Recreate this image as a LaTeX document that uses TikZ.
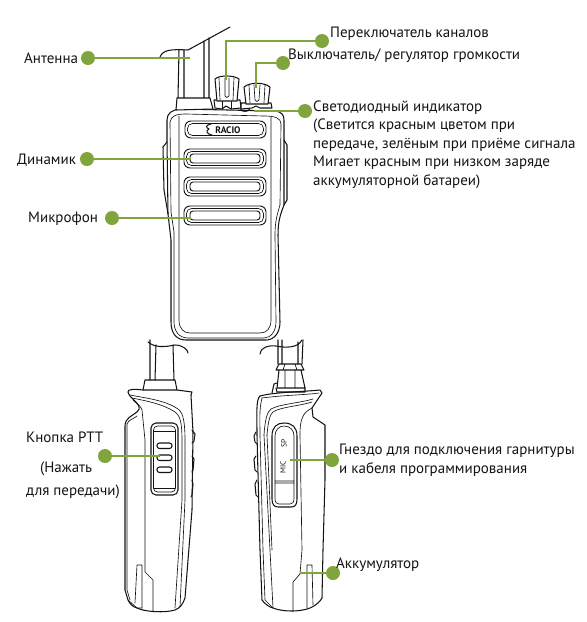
\documentclass[tikz,border=0pt]{standalone}
\usepackage{fontspec}
\setmainfont{PT Sans}
\definecolor{leaf}{HTML}{7FA53C}
\definecolor{ink}{HTML}{141414}
\tikzset{
  lbl/.style={inner sep=0pt,anchor=base west,text=ink,font=\fontsize{15}{18.5}\selectfont,align=left},
  dot/.style={circle,fill=leaf,draw=none,minimum size=14pt,inner sep=0pt},
  lead/.style={draw=leaf,line width=1.6pt},
  ol/.style={draw=ink,line width=1.05pt,line join=round,line cap=round},
  thin/.style={draw=ink,line width=0.65pt,line join=round,line cap=round},
  grille/.style={draw=ink,line width=0.95pt,rounded corners=6pt},
}
\begin{document}
\begin{tikzpicture}[x=1pt,y=-1pt]
\useasboundingbox (0,0) rectangle (587,622);
\fill[white] (0,0) rectangle (587,622);
% ---------- front radio
% body
\draw[ol] (167,140) -- (167,120) .. controls (167,113) and (172,110) .. (180,109) -- (275,111) .. controls (282,112) and (284,115) .. (284,120)
  -- (284,205) .. controls (281,213) and (278,220) .. (278,235) -- (280,322)
  .. controls (280,333) and (274,340) .. (266,340) -- (186,340) .. controls (177,340) and (171,334) .. (171,322) -- (171,240) -- (168,214) -- cycle;
\draw[thin] (170,122) .. controls (171,116) and (176,114) .. (186,114) -- (264,116) .. controls (275,116) and (281,118) .. (281,124) -- (280,205) .. controls (277,215) and (275,222) .. (275,235) -- (276,322)
 .. controls (276,331) and (271,338) .. (264,338) -- (188,338) .. controls (179,338) and (174,331) .. (174,322) -- (174,232) -- (171,212) -- cycle;
\draw[thin] (179,116) -- (179,320) .. controls (179,329) and (184,333) .. (190,333) -- (260,333) .. controls (267,333) and (271,328) .. (271,320) -- (271,117);
\draw[ol] (167,142) -- (163,147) -- (164,190) -- (168,214);
\draw[ol] (284,140) -- (287,145) -- (287,200) -- (284,205);
\draw[thin] (240,110) .. controls (243,108) and (248,108) .. (250,110) .. controls (247,112) and (243,112) .. (240,110);
% antenna
\draw[ol] (160,57) .. controls (163,50) and (170,49) .. (188,50) -- (230,27);
\draw[ol] (179,50) -- (178,98) (184,50) -- (184,98) (204,41) -- (204,98) (209,38) -- (209,98);
\draw[ol,fill=white] (177,98) -- (210,98) -- (213,109) -- (176,110) -- cycle;
% knobs
\draw[ol,fill=white] (214,100) -- (240,100) -- (241,108) -- (231,109) -- (226,106) -- (222,109) -- (215,108) -- cycle;
\draw[thin] (222,100) -- (222,109) (231,100) -- (231,109);
\draw[ol,fill=white] (215,79) .. controls (219,75) and (234,75) .. (239,79) -- (237,101) -- (217,101) -- cycle;
\draw[thin] (219,78) -- (220,100) (234,78) -- (233,100) (225,78) -- (225,96) .. controls (226,98) and (228,98) .. (229,96) -- (229,78);
\draw[ol,fill=white] (241,103) -- (271,103) -- (272,108) -- (260,108) -- (256,106) -- (252,108) -- (241,109) -- cycle;
\draw[ol,fill=white] (244,87) .. controls (250,82) and (264,82) .. (270,87) -- (268,104) -- (246,104) -- cycle;
\draw[thin] (249,85) -- (250,103) (265,85) -- (264,103) (254,85) -- (255,100) .. controls (256,102) and (258,102) .. (259,100) -- (260,85);
% logo plate + grilles
\draw[grille] (185,121) rectangle (266,138);
\draw[thin,rounded corners=5pt] (187.5,123.5) rectangle (263.5,135.5);
\node[inner sep=0pt,text=ink] (logo) at (228,130) {\fontsize{9.5}{9.5}\selectfont\bfseries RACIO};
\draw[ol] (211,124) .. controls (205,125) and (206,128) .. (209,129) .. controls (205,131) and (207,134) .. (212,135);
\foreach \t/\b in {149/168,177/196,206/225}{
  \draw[grille] (184,\t) rectangle (266,\b);
  \draw[thin,rounded corners=5pt] (186.5,\t+2.5) rectangle (263.5,\b-2.5);
  \draw[grille,rounded corners=3pt] (190,\t+5) rectangle (260,\b-5);
}
% ---------- left side radio
\draw[ol] (148,342) .. controls (155,348) and (165,347) .. (175,345) .. controls (183,345) and (188,350) .. (188,353);
\draw[ol] (150,340) -- (150,380) (156,345) -- (155,380) (173,345) -- (174,380);
\draw[ol] (145,380) -- (175,380) -- (177,390) (143,390) -- (145,380);
\draw[ol] (128,392) .. controls (127,389) and (135,389) .. (143,390) -- (177,390) -- (192,392) -- (191,395);
\draw[ol] (128,392) .. controls (129,396) and (132,398) .. (134,400) .. controls (138,404) and (142,408) .. (137,412) .. controls (132,416) and (125,418) .. (125,426)
 -- (125,590) -- (128,600) .. controls (130,604) and (133,607) .. (137,608) .. controls (145,612) and (165,613) .. (175,610) .. controls (180,608) and (183,604) .. (185,598) -- (192,510) -- (193,432) -- (191,395);
\draw[thin] (127,424) .. controls (128,420) and (135,418) .. (137,416);
\draw[thin] (127,424) -- (127,590) -- (130,600);
\draw[thin] (130,395) .. controls (145,398) and (165,400) .. (178,409) .. controls (184,413) and (185,425) .. (185,442) -- (185,500) -- (180,607);
\draw[thin] (132,398) .. controls (147,401) and (163,404) .. (175,412) .. controls (181,416) and (182,425) .. (182,442) -- (182,500) -- (175,608);
\draw[thin] (133,400) .. controls (137,404) and (141,406) .. (142,410) -- (145,440) -- (145,572) -- (153,580) -- (153,612);
\draw[thin] (137,565) -- (142,565) -- (142,608) (137,565) -- (135,603);
\draw[thin] (128,600) -- (137,608) -- (142,608);
\draw[ol,rounded corners=5pt] (151,423) rectangle (178,495);
\draw[thin,rounded corners=4pt] (153.5,426) rectangle (175.5,492);
\draw[thin] (154,431) -- (175,431) (154,488) -- (175,488);
\foreach \t in {443,455,467}{\draw[ol,rounded corners=2.5pt] (157,\t) rectangle (172,\t+5.5);}
\draw[ol] (192,430) -- (195,434) -- (194,441) -- (192,443) (192,456) -- (194,459) -- (193,470) -- (192,472) (192,480) -- (193,484) -- (192,495) -- (191,497);
% ---------- right side radio
\draw[ol] (260,354) .. controls (260,348) and (268,345) .. (276,346) .. controls (286,348) and (298,348) .. (302,340);
\draw[ol] (278,340) -- (278,364) (282,340) -- (282,364) (298,342) -- (298,364) (303,340) -- (302,364);
\draw[ol] (279,364) -- (301,364) -- (304,370) -- (276,370) -- cycle;
\draw[ol] (279,370) -- (277,388) -- (305,388) -- (301,370);
\draw[thin] (285,370) -- (285,388) (295,370) -- (295,388) (285,364) -- (283,370) (295,364) -- (297,370);
\draw[ol] (272,393) -- (274,384) -- (277,383) (276,388) -- (277,392) -- (305,392) -- (305,388);
\draw[ol] (260,396) .. controls (275,392) and (300,392) .. (320,390) -- (322,393) -- (312,408);
\draw[ol] (260,396) .. controls (256,400) and (257,410) .. (257,435) -- (260,550) -- (262,600) .. controls (265,604) and (269,607) .. (273,608) .. controls (283,612) and (300,612) .. (310,608) .. controls (315,606) and (320,602) .. (322,598) -- (323,550) -- (325,480) -- (325,425) -- (313,417) -- (312,408);
\draw[thin] (262,398) .. controls (284,395) and (305,395) .. (319,393);
\draw[thin] (262,398) .. controls (259,410) and (260,420) .. (260,435) -- (263,550) -- (265,600) -- (273,608);
\draw[thin] (267,435) .. controls (268,422) and (270,414) .. (273,412) .. controls (280,407) and (300,406) .. (312,402);
\draw[thin] (264,435) .. controls (265,420) and (267,412) .. (271,409) .. controls (280,404) and (300,403) .. (313,399);
\draw[thin] (264,435) -- (270,550) -- (273,608);
\draw[thin] (267,435) -- (272,550);
\draw[thin] (300,435) .. controls (300,420) and (302,413) .. (312,408) (300,435) -- (302,550) -- (300,574) -- (293,582) -- (293,612);
\draw[thin] (307,565) -- (312,565) -- (313,605) (307,565) -- (307,608);
\draw[ol,fill=white] (272,436) .. controls (272,427) and (277,423) .. (284,423) .. controls (292,423) and (297,427) .. (297,436) -- (297,499) .. controls (297,505) and (295,507) .. (291,507) -- (278,507) .. controls (274,507) and (272,504) .. (272,499) -- cycle;
\draw[thin] (275,436) .. controls (275,430) and (279,426) .. (284,426) .. controls (290,426) and (294,430) .. (294,436) -- (294,481) -- (275,481) -- cycle;
\draw[thin] (275,481) -- (275,483) -- (294,483) -- (294,481) (275,483) -- (275,498) .. controls (275,503) and (277,504) .. (279,504) -- (290,504) .. controls (293,504) and (294,502) .. (294,498) -- (294,483);
\node[inner sep=0pt,rotate=90,text=ink] (sp) at (284,443) {\fontsize{7.5}{7.5}\selectfont SP};
\node[inner sep=0pt,rotate=90,text=ink] (mic) at (283,467) {\fontsize{7.5}{7.5}\selectfont MIC};
\draw[ol] (256,432) -- (254,436) -- (255,442) -- (257,444) (256,456) -- (254,459) -- (255,470) -- (257,472) (257,480) -- (255,484) -- (256,495) -- (258,497);
% ---------- callouts
\node[dot] (d1) at (88,58) {};
\coordinate (e1) at (190,58);
\draw[lead] (d1) -- (e1);
\node[dot] (d2) at (322,41) {};
\coordinate (e2) at (226,80);
\draw[lead] (d2) -| (e2);
\node[dot] (d3) at (283,63) {};
\coordinate (e3) at (256,88);
\draw[lead] (d3) -| (e3);
\node[dot] (d4) at (305,111) {};
\coordinate (e4) at (254,111);
\draw[lead] (d4) -- (e4);
\node[dot] (d5) at (87,159) {};
\coordinate (e5) at (191,159);
\draw[lead] (d5) -- (e5);
\node[dot] (d6) at (112,218) {};
\coordinate (e6) at (191,218);
\draw[lead] (d6) -- (e6);
\node[dot] (d7) at (105,456) {};
\coordinate (e7) at (160,456);
\draw[lead] (d7) -- (e7);
\node[dot] (d8) at (332,460) {};
\coordinate (e8) at (290,460);
\draw[lead] (d8) -- (e8);
\node[dot] (d9) at (333,573) {};
\coordinate (e9) at (300,573);
\draw[lead] (d9) -- (e9);
% ---------- labels
\node[lbl] (t1) at (24,63) {Антенна};
\node[lbl] (t2) at (330,37) {Переключатель каналов};
\node[lbl] (t3) at (288,59) {Выключатель/ регулятор громкости};
\node[lbl] (t4) at (313,111) {Светодиодный индикатор};
\node[lbl] (t4b) at (313,129.5) {(Светится красным цветом при};
\node[lbl] (t4c) at (313,148) {передаче, зелёным при приёме сигнала};
\node[lbl] (t4d) at (313,166.5) {Мигает красным при низком заряде};
\node[lbl] (t4e) at (313,185) {аккумуляторной батареи)};
\node[lbl] (t5) at (17,164) {Динамик};
\node[lbl] (t6) at (28,222) {Микрофон};
\node[lbl] (t7) at (26,442) {Кнопка PTT};
\node[lbl] (t7b) at (40,472) {(Нажать};
\node[lbl] (t7c) at (26,495) {для передачи)};
\node[lbl] (t8) at (339,454) {Гнездо для подключения гарнитуры};
\node[lbl] (t8b) at (339,473) {и кабеля программирования};
\node[lbl] (t9) at (336,568) {Аккумулятор};
\end{tikzpicture}
\end{document}
